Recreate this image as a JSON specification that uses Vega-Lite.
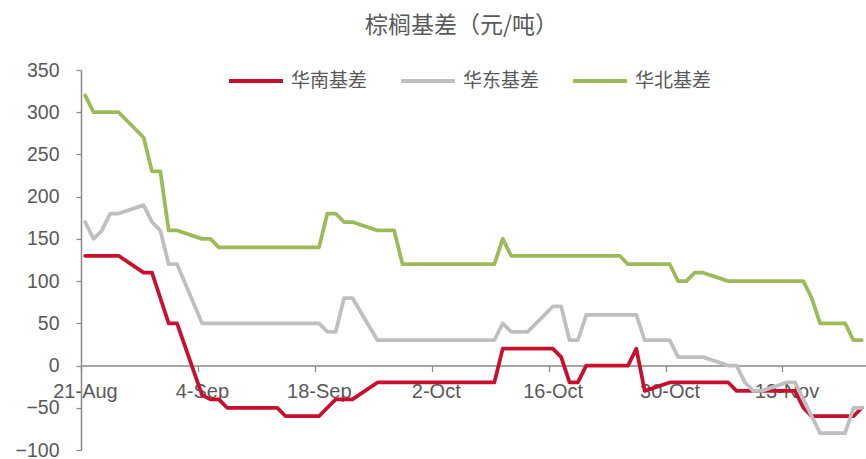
{
  "$schema": "https://vega.github.io/schema/vega-lite/v6.json",
  "width": 785,
  "height": 380,
  "autosize": {"type": "none"},
  "padding": {"left": 81, "top": 70, "right": 0, "bottom": 9},
  "background": "white",
  "title": {
    "text": "棕榈基差（元/吨）",
    "font": "Noto Sans CJK SC",
    "fontSize": 23,
    "fontWeight": "normal",
    "color": "#595959",
    "anchor": "middle",
    "frame": "group",
    "dx": -12,
    "offset": 14
  },
  "data": {
    "values": [
      {"date": "2023-08-21T12:00:00", "华南基差": 130, "华东基差": 170, "华北基差": 320},
      {"date": "2023-08-22T12:00:00", "华南基差": 130, "华东基差": 150, "华北基差": 300},
      {"date": "2023-08-23T12:00:00", "华南基差": 130, "华东基差": 160, "华北基差": 300},
      {"date": "2023-08-24T12:00:00", "华南基差": 130, "华东基差": 180, "华北基差": 300},
      {"date": "2023-08-25T12:00:00", "华南基差": 130, "华东基差": 180, "华北基差": 300},
      {"date": "2023-08-28T12:00:00", "华南基差": 110, "华东基差": 190, "华北基差": 270},
      {"date": "2023-08-29T12:00:00", "华南基差": 110, "华东基差": 170, "华北基差": 230},
      {"date": "2023-08-30T12:00:00", "华南基差": 80, "华东基差": 160, "华北基差": 230},
      {"date": "2023-08-31T12:00:00", "华南基差": 50, "华东基差": 120, "华北基差": 160},
      {"date": "2023-09-01T12:00:00", "华南基差": 50, "华东基差": 120, "华北基差": 160},
      {"date": "2023-09-04T12:00:00", "华南基差": -35, "华东基差": 50, "华北基差": 150},
      {"date": "2023-09-05T12:00:00", "华南基差": -40, "华东基差": 50, "华北基差": 150},
      {"date": "2023-09-06T12:00:00", "华南基差": -40, "华东基差": 50, "华北基差": 140},
      {"date": "2023-09-07T12:00:00", "华南基差": -50, "华东基差": 50, "华北基差": 140},
      {"date": "2023-09-08T12:00:00", "华南基差": -50, "华东基差": 50, "华北基差": 140},
      {"date": "2023-09-11T12:00:00", "华南基差": -50, "华东基差": 50, "华北基差": 140},
      {"date": "2023-09-12T12:00:00", "华南基差": -50, "华东基差": 50, "华北基差": 140},
      {"date": "2023-09-13T12:00:00", "华南基差": -50, "华东基差": 50, "华北基差": 140},
      {"date": "2023-09-14T12:00:00", "华南基差": -60, "华东基差": 50, "华北基差": 140},
      {"date": "2023-09-15T12:00:00", "华南基差": -60, "华东基差": 50, "华北基差": 140},
      {"date": "2023-09-18T12:00:00", "华南基差": -60, "华东基差": 50, "华北基差": 140},
      {"date": "2023-09-19T12:00:00", "华南基差": -50, "华东基差": 40, "华北基差": 180},
      {"date": "2023-09-20T12:00:00", "华南基差": -40, "华东基差": 40, "华北基差": 180},
      {"date": "2023-09-21T12:00:00", "华南基差": -40, "华东基差": 80, "华北基差": 170},
      {"date": "2023-09-22T12:00:00", "华南基差": -40, "华东基差": 80, "华北基差": 170},
      {"date": "2023-09-25T12:00:00", "华南基差": -20, "华东基差": 30, "华北基差": 160},
      {"date": "2023-09-26T12:00:00", "华南基差": -20, "华东基差": 30, "华北基差": 160},
      {"date": "2023-09-27T12:00:00", "华南基差": -20, "华东基差": 30, "华北基差": 160},
      {"date": "2023-09-28T12:00:00", "华南基差": -20, "华东基差": 30, "华北基差": 120},
      {"date": "2023-10-09T12:00:00", "华南基差": -20, "华东基差": 30, "华北基差": 120},
      {"date": "2023-10-10T12:00:00", "华南基差": 20, "华东基差": 50, "华北基差": 150},
      {"date": "2023-10-11T12:00:00", "华南基差": 20, "华东基差": 40, "华北基差": 130},
      {"date": "2023-10-12T12:00:00", "华南基差": 20, "华东基差": 40, "华北基差": 130},
      {"date": "2023-10-13T12:00:00", "华南基差": 20, "华东基差": 40, "华北基差": 130},
      {"date": "2023-10-16T12:00:00", "华南基差": 20, "华东基差": 70, "华北基差": 130},
      {"date": "2023-10-17T12:00:00", "华南基差": 10, "华东基差": 70, "华北基差": 130},
      {"date": "2023-10-18T12:00:00", "华南基差": -20, "华东基差": 30, "华北基差": 130},
      {"date": "2023-10-19T12:00:00", "华南基差": -20, "华东基差": 30, "华北基差": 130},
      {"date": "2023-10-20T12:00:00", "华南基差": 0, "华东基差": 60, "华北基差": 130},
      {"date": "2023-10-23T12:00:00", "华南基差": 0, "华东基差": 60, "华北基差": 130},
      {"date": "2023-10-24T12:00:00", "华南基差": 0, "华东基差": 60, "华北基差": 130},
      {"date": "2023-10-25T12:00:00", "华南基差": 0, "华东基差": 60, "华北基差": 120},
      {"date": "2023-10-26T12:00:00", "华南基差": 20, "华东基差": 60, "华北基差": 120},
      {"date": "2023-10-27T12:00:00", "华南基差": -30, "华东基差": 30, "华北基差": 120},
      {"date": "2023-10-30T12:00:00", "华南基差": -20, "华东基差": 30, "华北基差": 120},
      {"date": "2023-10-31T12:00:00", "华南基差": -20, "华东基差": 10, "华北基差": 100},
      {"date": "2023-11-01T12:00:00", "华南基差": -20, "华东基差": 10, "华北基差": 100},
      {"date": "2023-11-02T12:00:00", "华南基差": -20, "华东基差": 10, "华北基差": 110},
      {"date": "2023-11-03T12:00:00", "华南基差": -20, "华东基差": 10, "华北基差": 110},
      {"date": "2023-11-06T12:00:00", "华南基差": -20, "华东基差": 0, "华北基差": 100},
      {"date": "2023-11-07T12:00:00", "华南基差": -30, "华东基差": 0, "华北基差": 100},
      {"date": "2023-11-08T12:00:00", "华南基差": -30, "华东基差": -20, "华北基差": 100},
      {"date": "2023-11-09T12:00:00", "华南基差": -30, "华东基差": -30, "华北基差": 100},
      {"date": "2023-11-10T12:00:00", "华南基差": -30, "华东基差": -30, "华北基差": 100},
      {"date": "2023-11-13T12:00:00", "华南基差": -30, "华东基差": -20, "华北基差": 100},
      {"date": "2023-11-14T12:00:00", "华南基差": -30, "华东基差": -20, "华北基差": 100},
      {"date": "2023-11-15T12:00:00", "华南基差": -50, "华东基差": -40, "华北基差": 100},
      {"date": "2023-11-16T12:00:00", "华南基差": -60, "华东基差": -60, "华北基差": 80},
      {"date": "2023-11-17T12:00:00", "华南基差": -60, "华东基差": -80, "华北基差": 50},
      {"date": "2023-11-20T12:00:00", "华南基差": -60, "华东基差": -80, "华北基差": 50},
      {"date": "2023-11-21T12:00:00", "华南基差": -60, "华东基差": -50, "华北基差": 30},
      {"date": "2023-11-22T12:00:00", "华南基差": -50, "华东基差": -50, "华北基差": 30}
    ]
  },
  "transform": [
    {"fold": ["华南基差", "华东基差", "华北基差"], "as": ["series", "value"]}
  ],
  "mark": {"type": "line", "strokeWidth": 3.75, "strokeJoin": "round", "strokeCap": "round"},
  "encoding": {
    "x": {
      "field": "date",
      "type": "temporal",
      "scale": {
        "domain": [
          {"year": 2023, "month": 8, "date": 21},
          {"year": 2023, "month": 11, "date": 23}
        ]
      },
      "axis": {
        "title": null,
        "values": [
          {"year": 2023, "month": 8, "date": 21},
          {"year": 2023, "month": 9, "date": 4},
          {"year": 2023, "month": 9, "date": 18},
          {"year": 2023, "month": 10, "date": 2},
          {"year": 2023, "month": 10, "date": 16},
          {"year": 2023, "month": 10, "date": 30},
          {"year": 2023, "month": 11, "date": 13}
        ],
        "format": "%-d-%b",
        "offset": -84.44,
        "grid": false,
        "domainColor": "#898989",
        "domainWidth": 1.5,
        "tickColor": "#898989",
        "tickWidth": 1.25,
        "tickSize": 6,
        "labelFont": "Liberation Sans",
        "labelFontSize": 20,
        "labelColor": "#595959",
        "labelPadding": 10,
        "labelOffset": 4,
        "labelFlush": false,
        "labelOverlap": false
      }
    },
    "y": {
      "field": "value",
      "type": "quantitative",
      "scale": {"domain": [-100, 350], "nice": false, "zero": false},
      "axis": {
        "title": null,
        "values": [-100, -50, 0, 50, 100, 150, 200, 250, 300, 350],
        "grid": false,
        "domainColor": "#898989",
        "domainWidth": 1.5,
        "tickColor": "#898989",
        "tickWidth": 1.25,
        "tickSize": 5,
        "labelFont": "Liberation Sans",
        "labelFontSize": 19.5,
        "labelColor": "#595959",
        "labelPadding": 17,
        "labelFlush": false,
        "labelOverlap": false
      }
    },
    "color": {
      "field": "series",
      "type": "nominal",
      "scale": {
        "domain": ["华南基差", "华东基差", "华北基差"],
        "range": ["#C8102E", "#BFBFBF", "#9BBB59"]
      },
      "legend": {
        "title": null,
        "orient": "none",
        "direction": "horizontal",
        "legendX": 146,
        "legendY": -18,
        "padding": 0,
        "symbolType": "stroke",
        "symbolSize": 2916,
        "symbolStrokeWidth": 4,
        "labelFont": "Noto Sans CJK SC",
        "labelFontSize": 19,
        "labelColor": "#595959",
        "labelOffset": 6,
        "labelLimit": 200,
        "columnPadding": 25
      }
    }
  },
  "config": {
    "view": {"stroke": null}
  }
}
